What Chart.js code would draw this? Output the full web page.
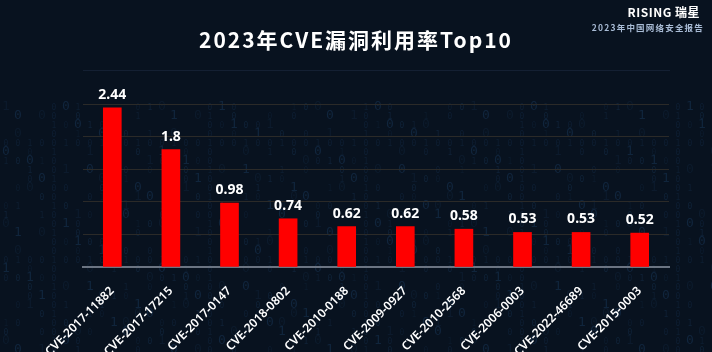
<!DOCTYPE html>
<html>
<head>
<meta charset="utf-8">
<script src="https://cdn.jsdelivr.net/npm/chart.js@4"></script>
<style>
  html, body { margin: 0; padding: 0; background: #08121f; }
  #wrap { position: relative; width: 712px; height: 352px; overflow: hidden; background: #08121f; }
  #title { position: absolute; left: 0; width: 712px; top: 24px; text-align: center; color: #fff;
    font: bold 21px "Noto Sans CJK SC", "Noto Sans", sans-serif; letter-spacing: 2px; }
  #logo { position: absolute; right: 12px; top: 3px; color: #fff; font: bold 12px "Noto Sans CJK SC", sans-serif; letter-spacing: 0.5px; }
  #sub { position: absolute; right: 8px; top: 21px; color: #a9bcd6; font: bold 8.5px "Noto Sans CJK SC", sans-serif; letter-spacing: 1.2px; }
  #rule { position: absolute; left: 83px; width: 587px; top: 70px; height: 1px; background: #142033; }
  canvas { position: absolute; left: 0; top: 0; }
</style>
</head>
<body>
<div id="wrap">
  <canvas id="bg" width="712" height="352"></canvas>
  <div id="title">2023年CVE漏洞利用率Top10</div>
  <div id="logo">RISING 瑞星</div>
  <div id="sub">2023年中国网络安全报告</div>
  <div id="rule"></div>
  <canvas id="c" width="712" height="352"></canvas>
</div>
<script>
const categories = ['CVE-2017-11882', 'CVE-2017-17215', 'CVE-2017-0147', 'CVE-2018-0802', 'CVE-2010-0188',
  'CVE-2009-0927', 'CVE-2010-2568', 'CVE-2006-0003', 'CVE-2022-46689', 'CVE-2015-0003'];
const rates = [2.44, 1.8, 0.98, 0.74, 0.62, 0.62, 0.58, 0.53, 0.53, 0.52];

// faint binary "rain" backdrop (decoration only)
(function () {
  const g = document.getElementById('bg').getContext('2d');
  g.textAlign = 'center';
  for (let col = 0; col < 60; col++) {
    const x = 6 + col * 12;
    for (let row = 0; row < 30; row++) {
      const h = (col * 37 + row * 11 + col * row * 7) % 13;
      if (h > 5) continue;
      const y = 110 + row * 9;
      const size = h % 3 === 0 ? 13 : 8;
      g.font = size + 'px "DejaVu Sans Mono", monospace';
      g.fillStyle = 'rgba(40,90,140,' + (0.12 + (h % 4) * 0.05) + ')';
      g.fillText((col + row) % 3 === 0 ? '1' : '0', x, y);
    }
  }
})();

const valueLabels = {
  id: 'valueLabels',
  afterDatasetsDraw(chart) {
    const ctx = chart.ctx;
    const meta = chart.getDatasetMeta(0);
    ctx.save();
    ctx.fillStyle = '#ffffff';
    ctx.font = 'bold 14px "Noto Sans", sans-serif';
    ctx.textAlign = 'center';
    ctx.textBaseline = 'bottom';
    meta.data.forEach((bar, i) => {
      ctx.fillText(String(rates[i]), bar.x, bar.y - 6);
    });
    ctx.restore();
  }
};

new Chart(document.getElementById('c'), {
  type: 'bar',
  data: {
    labels: categories,
    datasets: [{ data: rates, backgroundColor: '#ff0000', barThickness: 18 }]
  },
  options: {
    responsive: false,
    animation: false,
    layout: { padding: { left: 83, right: 43, top: 104, bottom: 0 } },
    plugins: { legend: { display: false }, tooltip: { enabled: false } },
    scales: {
      x: {
        afterFit(s) { s.height = 85; },
        grid: { display: false },
        border: { color: '#6b7482', width: 2 },
        ticks: { color: '#ffffff', font: { family: '"Noto Sans", sans-serif', size: 12, weight: '600' },
          minRotation: 45, maxRotation: 45, autoSkip: false, padding: 9 }
      },
      y: {
        min: 0, max: 2.5,
        afterFit(s) { s.width = 0; },
        ticks: { display: false, stepSize: 0.5 },
        border: { display: false },
        grid: { color: '#2b2a28', lineWidth: 1, drawTicks: false }
      }
    }
  },
  plugins: [valueLabels]
});
</script>
</body>
</html>
